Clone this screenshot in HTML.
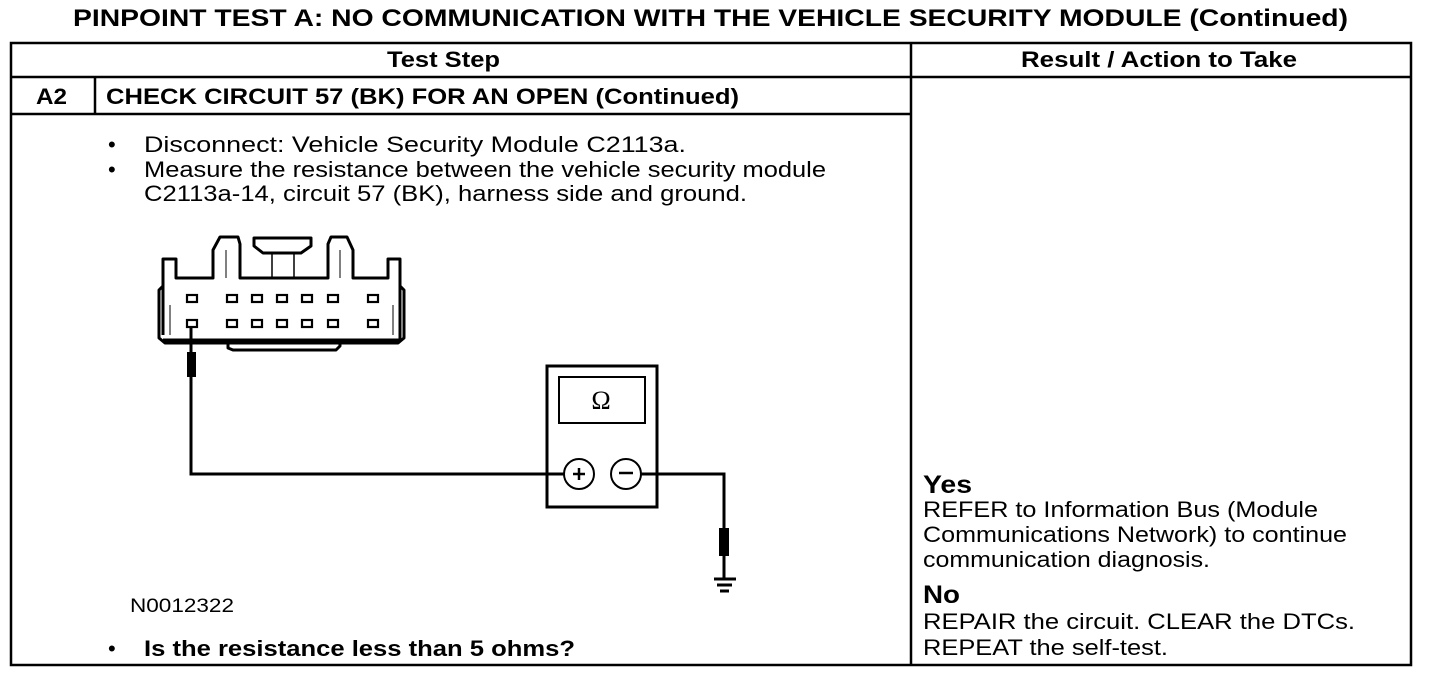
<!DOCTYPE html>
<html><head><meta charset="utf-8"><style>
html,body{margin:0;padding:0;background:#fff;}
svg{display:block;}
text{font-family:"Liberation Sans",Arial,sans-serif;fill:#000;}
.b{font-weight:bold;}
</style></head><body>
<svg width="1440" height="680" viewBox="0 0 1440 680" xmlns="http://www.w3.org/2000/svg">
<text x="73" y="26" class="b" font-size="24" textLength="1275" lengthAdjust="spacingAndGlyphs">PINPOINT TEST  A: NO COMMUNICATION WITH THE VEHICLE SECURITY MODULE (Continued)</text>
<g stroke="#000" stroke-width="2.5" fill="none">
<rect x="11" y="43" width="1400" height="622"/>
<line x1="11" y1="77" x2="1411" y2="77"/>
<line x1="911" y1="43" x2="911" y2="665"/>
<line x1="11" y1="114" x2="911" y2="114"/>
<line x1="95" y1="77" x2="95" y2="114"/>
</g>
<text x="387" y="67" class="b" font-size="22" textLength="113" lengthAdjust="spacingAndGlyphs">Test Step</text>
<text x="1021" y="67" class="b" font-size="22" textLength="276" lengthAdjust="spacingAndGlyphs">Result / Action to Take</text>
<text x="36" y="104" class="b" font-size="22" textLength="31" lengthAdjust="spacingAndGlyphs">A2</text>
<text x="106" y="104" class="b" font-size="22" textLength="633" lengthAdjust="spacingAndGlyphs">CHECK CIRCUIT 57 (BK) FOR AN OPEN (Continued)</text>
<g font-size="22">
<text x="108" y="152">•</text><text x="144" y="152" textLength="542" lengthAdjust="spacingAndGlyphs">Disconnect: Vehicle Security Module C2113a.</text>
<text x="108" y="177">•</text><text x="144" y="177" textLength="682" lengthAdjust="spacingAndGlyphs">Measure the resistance between the vehicle security module</text>
<text x="144" y="201" textLength="603" lengthAdjust="spacingAndGlyphs">C2113a-14, circuit 57 (BK), harness side and ground.</text>
<text x="130" y="612" font-size="19" textLength="104" lengthAdjust="spacingAndGlyphs">N0012322</text>
<text x="108" y="656">•</text><text x="144" y="656" class="b" textLength="431" lengthAdjust="spacingAndGlyphs">Is the resistance less than 5 ohms?</text>
<text x="923" y="493" class="b" font-size="25" textLength="49" lengthAdjust="spacingAndGlyphs">Yes</text>
<text x="923" y="517" textLength="395" lengthAdjust="spacingAndGlyphs">REFER to Information Bus (Module</text>
<text x="923" y="542" textLength="424" lengthAdjust="spacingAndGlyphs">Communications Network) to continue</text>
<text x="923" y="567" textLength="287" lengthAdjust="spacingAndGlyphs">communication diagnosis.</text>
<text x="923" y="603" class="b" font-size="25" textLength="37" lengthAdjust="spacingAndGlyphs">No</text>
<text x="923" y="629" textLength="432" lengthAdjust="spacingAndGlyphs">REPAIR the circuit. CLEAR the DTCs.</text>
<text x="923" y="655" textLength="245" lengthAdjust="spacingAndGlyphs">REPEAT the self-test.</text>
</g>
<!-- connector -->
<g stroke="#000" stroke-width="3" fill="none" stroke-linejoin="round">
<path d="M163 335 L163 259 L176 259 L176 278 L213 278 L213 250 L220 237 L238 237 L240 244 L240 278 L328 278 L328 244 L331 237 L347 237 L353 250 L353 278 L388 278 L388 259 L400 259 L400 340 L163 340"/>
<path d="M163 286 L159 290 L159 338 L165 343 L398 343 L404 338 L404 290 L400 286"/>
<path d="M228 343 L228 348 L233 350 L336 350 L340 346 L340 343"/>
<path d="M254 238 L254 246 L263 253 L301 253 L311 246 L311 238 Z"/>
<line x1="226" y1="250" x2="226" y2="278" stroke-width="1"/>
<line x1="340" y1="250" x2="340" y2="278" stroke-width="1"/>
<rect x="272" y="253" width="22" height="25" stroke-width="1.5"/>
<line x1="170" y1="305" x2="170" y2="335" stroke-width="1"/>
<line x1="393" y1="305" x2="393" y2="335" stroke-width="1"/>
</g>
<g stroke="#000" stroke-width="2.2" fill="none">
<rect x="187" y="295" width="10" height="7"/><rect x="227" y="295" width="10" height="7"/><rect x="252" y="295" width="10" height="7"/><rect x="277" y="295" width="10" height="7"/><rect x="302" y="295" width="10" height="7"/><rect x="328" y="295" width="10" height="7"/><rect x="368" y="295" width="10" height="7"/>
<rect x="187" y="320" width="10" height="7"/><rect x="227" y="320" width="10" height="7"/><rect x="252" y="320" width="10" height="7"/><rect x="277" y="320" width="10" height="7"/><rect x="302" y="320" width="10" height="7"/><rect x="328" y="320" width="10" height="7"/><rect x="368" y="320" width="10" height="7"/>
</g>
<!-- wires -->
<g stroke="#000" stroke-width="3" fill="none">
<polyline points="191,328 191,474 564,474"/>
<polyline points="641,474 724,474 724,578"/>
<line x1="714" y1="579" x2="736" y2="579"/>
<line x1="717" y1="585" x2="732" y2="585"/>
<line x1="720" y1="591" x2="729" y2="591"/>
</g>
<rect x="187" y="352" width="9" height="25" fill="#000"/>
<rect x="719" y="528" width="10" height="28" fill="#000"/>
<!-- meter -->
<g stroke="#000" fill="none">
<rect x="547" y="366" width="110" height="141" stroke-width="3"/>
<rect x="559" y="377" width="86" height="46" stroke-width="2"/>
<circle cx="579" cy="474" r="15" stroke-width="2" fill="#fff"/>
<circle cx="626" cy="474" r="15" stroke-width="2" fill="#fff"/>
<line x1="573" y1="474" x2="585" y2="474" stroke-width="2.5"/>
<line x1="579" y1="468" x2="579" y2="480" stroke-width="2.5"/>
<line x1="619" y1="473" x2="633" y2="473" stroke-width="2.5"/>
</g>
<text x="601" y="409" text-anchor="middle" font-size="26" style="font-family:'Liberation Serif',serif">Ω</text>
</svg>
</body></html>
